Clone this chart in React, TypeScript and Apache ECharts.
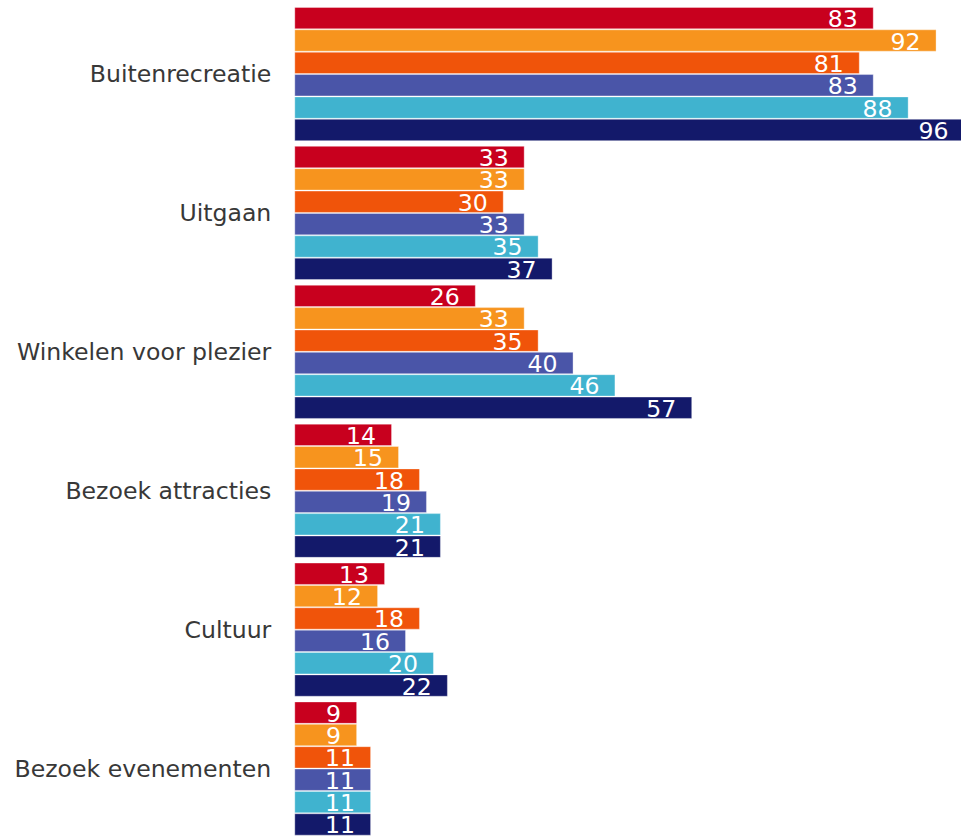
import React, { useEffect, useRef } from "react";
import * as echarts from "echarts";

const categories = [
  "Buitenrecreatie",
  "Uitgaan",
  "Winkelen voor plezier",
  "Bezoek attracties",
  "Cultuur",
  "Bezoek evenementen",
];

const seriesNames = ["Reeks 1", "Reeks 2", "Reeks 3", "Reeks 4", "Reeks 5", "Reeks 6"];
const series1 = [83, 33, 26, 14, 13, 9];
const series2 = [92, 33, 33, 15, 12, 9];
const series3 = [81, 30, 35, 18, 18, 11];
const series4 = [83, 33, 40, 19, 16, 11];
const series5 = [88, 35, 46, 21, 20, 11];
const series6 = [96, 37, 57, 21, 22, 11];
const seriesData = [series1, series2, series3, series4, series5, series6];
const colors = ["#c8001e", "#f7941e", "#f0540a", "#4a55a8", "#40b3cf", "#13196a"];

export default function App() {
  const ref = useRef<HTMLDivElement>(null);
  useEffect(() => {
    if (!ref.current) return;
    const chart = echarts.init(ref.current, undefined, { renderer: "svg" });
    chart.setOption({
      animation: false,
      grid: { left: 294.3, right: 0, top: 4.6, height: 837, containLabel: false },
      xAxis: {
        type: "value",
        min: 0,
        max: 95.5,
        show: false,
      },
      yAxis: {
        type: "category",
        data: categories,
        inverse: true,
        axisLine: { show: false },
        axisTick: { show: false },
        axisLabel: {
          color: "#383838",
          fontFamily: "DejaVu Sans",
          fontSize: 23.6,
          margin: 23,
        },
      },
      series: seriesData.map((d, i) => ({
        name: seriesNames[i],
        type: "bar",
        data: d,
        clip: false,
        barGap: "0%",
        barCategoryGap: "3.4%",
        itemStyle: {
          color: colors[i],
          borderColor: "rgba(255,255,255,0.35)",
          borderWidth: 1,
        },
        label: {
          show: true,
          position: "insideRight",
          distance: 16,
          offset: [0, 1],
          color: "#ffffff",
          fontFamily: "DejaVu Sans",
          fontSize: 23.6,
        },
      })),
    });
    return () => chart.dispose();
  }, []);
  return (
    <div
      style={{
        position: "fixed",
        left: 0,
        top: 0,
        width: 961,
        height: 838,
        overflow: "hidden",
        background: "#ffffff",
      }}
    >
      <div ref={ref} style={{ width: 961, height: 838 }} />
    </div>
  );
}
